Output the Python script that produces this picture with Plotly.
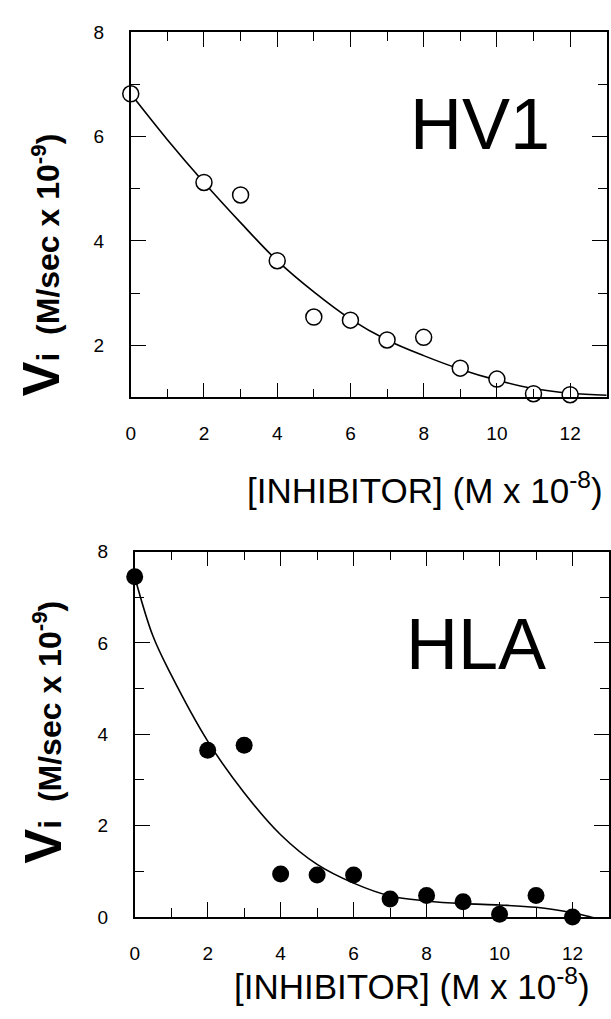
import plotly.graph_objects as go

# ---- data ----
hv1_x = [0, 2, 3, 4, 5, 6, 7, 8, 9, 10, 11, 12]
hv1_y = [6.82, 5.12, 4.88, 3.62, 2.54, 2.48, 2.10, 2.15, 1.56, 1.35, 1.07, 1.05]
hv1_fit_x = [0, 1, 2, 3, 4, 5, 6, 7, 8, 9, 10, 11, 12, 13]
hv1_fit_y = [6.82, 5.94, 5.12, 4.35, 3.62, 3.02, 2.50, 2.10, 1.80, 1.54, 1.33, 1.17, 1.08, 1.04]

hla_x = [0, 2, 3, 4, 5, 6, 7, 8, 9, 10, 11, 12]
hla_y = [7.45, 3.65, 3.76, 0.94, 0.92, 0.92, 0.39, 0.47, 0.33, 0.06, 0.47, 0.0]
hla_fit_x = [0, 0.5, 1, 2, 3, 4, 5, 6, 7, 8, 9, 10, 11, 12, 12.5, 13]
hla_fit_y = [7.45, 6.15, 5.3, 3.85, 2.72, 1.80, 1.15, 0.74, 0.46, 0.35, 0.29, 0.26, 0.21, 0.09, 0.0, -0.1]

x_range = [0, 13]
hv1_y_range = [1, 8]
hla_y_range = [0, 8]

panel_labels = ["HV1", "HLA"]
y_title = ("<b><span style='font-size:52px'>V</span>i  "
           "(M/sec x 10<sup>-9</sup>)</b>")
x_title = "[INHIBITOR] (M x 10<sup>-8</sup>)"

W, H = 611, 1019
FONT = "Liberation Sans, Arial, sans-serif"

fig = go.Figure()

# top panel
fig.add_trace(go.Scatter(x=hv1_fit_x, y=hv1_fit_y, mode="lines",
                         line=dict(color="black", width=1.6, shape="spline"),
                         xaxis="x", yaxis="y", hoverinfo="skip"))
fig.add_trace(go.Scatter(x=hv1_x, y=hv1_y, mode="markers",
                         marker=dict(symbol="circle", size=16, color="white",
                                     line=dict(color="black", width=1.5)),
                         cliponaxis=False, xaxis="x", yaxis="y"))
# bottom panel
fig.add_trace(go.Scatter(x=hla_fit_x, y=hla_fit_y, mode="lines",
                         line=dict(color="black", width=1.6, shape="spline"),
                         xaxis="x2", yaxis="y2", hoverinfo="skip"))
fig.add_trace(go.Scatter(x=hla_x, y=hla_y, mode="markers",
                         marker=dict(symbol="circle", size=17, color="black",
                                     line=dict(color="black", width=0)),
                         cliponaxis=False, xaxis="x2", yaxis="y2"))


def axis_style(**kw):
    d = dict(showline=True, linecolor="black", linewidth=1.6, mirror="ticks",
             ticks="inside", ticklen=15, tickwidth=1.4, tickcolor="black",
             dtick=2, tick0=0, showgrid=False, zeroline=False,
             minor=dict(dtick=1, ticks="inside", ticklen=9, tickwidth=1.4,
                        tickcolor="black", showgrid=False),
             tickfont=dict(family=FONT, size=19, color="black"))
    d.update(kw)
    return d


def px_x(p):
    return p / W


def px_y(p):
    return 1 - p / H


fig.update_layout(
    width=W, height=H, autosize=False,
    margin=dict(l=0, r=0, t=0, b=0),
    paper_bgcolor="white", plot_bgcolor="white",
    showlegend=False,
    xaxis=axis_style(domain=[px_x(127), px_x(607.7)], range=x_range, anchor="y",
                     ticklabelstandoff=18),
    yaxis=axis_style(domain=[px_y(395.5), px_y(22.7)], range=hv1_y_range, anchor="x",
                     ticklabelstandoff=21),
    xaxis2=axis_style(domain=[px_x(131), px_x(610)], range=x_range, anchor="y2",
                      ticklabelstandoff=18),
    yaxis2=axis_style(domain=[px_y(926), px_y(553)], range=hla_y_range, anchor="x2",
                      ticklabelstandoff=21),
)

ann = []
# panel labels
ann.append(dict(x=px_x(480), y=px_y(116), xref="paper", yref="paper",
                text=panel_labels[0], showarrow=False,
                font=dict(family=FONT, size=72, color="black"),
                xanchor="center", yanchor="middle"))
ann.append(dict(x=px_x(476), y=px_y(647), xref="paper", yref="paper",
                text=panel_labels[1], showarrow=False,
                font=dict(family=FONT, size=72, color="black"),
                xanchor="center", yanchor="middle"))
# y titles
ann.append(dict(x=px_x(36), y=px_y(260), xref="paper", yref="paper",
                text=y_title, showarrow=False, textangle=-90,
                font=dict(family=FONT, size=32, color="black"),
                xanchor="center", yanchor="middle"))
ann.append(dict(x=px_x(38), y=px_y(737), xref="paper", yref="paper",
                text=y_title, showarrow=False, textangle=-90,
                font=dict(family=FONT, size=32, color="black"),
                xanchor="center", yanchor="middle"))
# x titles
ann.append(dict(x=px_x(606), y=px_y(488), xref="paper", yref="paper",
                text=x_title, showarrow=False,
                font=dict(family=FONT, size=35, color="black"),
                xanchor="right", yanchor="middle"))
ann.append(dict(x=px_x(593), y=px_y(995), xref="paper", yref="paper",
                text=x_title, showarrow=False,
                font=dict(family=FONT, size=35, color="black"),
                xanchor="right", yanchor="middle"))
fig.update_layout(annotations=ann)

fig.write_html("out.html",
               config={"displayModeBar": False},
               post_script="document.body.style.margin='0';"
                           "document.body.style.overflow='hidden';")
